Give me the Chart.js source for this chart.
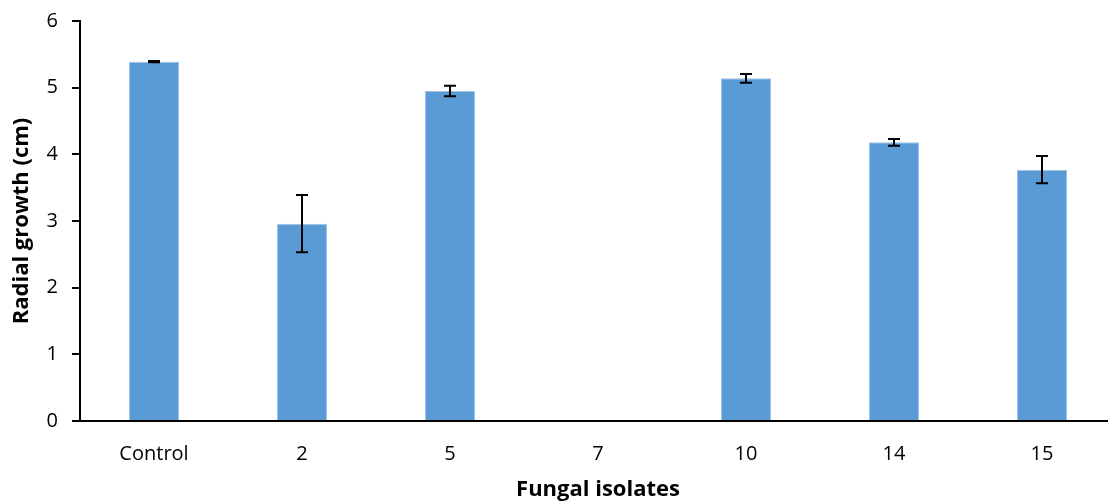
<!DOCTYPE html>
<html>
<head>
<meta charset="utf-8">
<script src="https://cdn.jsdelivr.net/npm/chart.js@4/dist/chart.umd.min.js"></script>
<style>
html,body{margin:0;padding:0;background:#fff;overflow:hidden;width:1108px;height:503px;}
#wrap{width:1116px;height:503px;position:relative;}
</style>
</head>
<body>
<div id="wrap"><canvas id="c"></canvas></div>
<script>
const categories = ["Control", "2", "5", "7", "10", "14", "15"];
const growth = [5.39, 2.96, 4.95, 0, 5.14, 4.18, 3.77];
const errors = [0.01, 0.43, 0.08, 0, 0.065, 0.05, 0.205];
const yTicks = [0, 1, 2, 3, 4, 5, 6];

const FONT = "'Open Sans', sans-serif";

const errorBarPlugin = {
  id: 'errorBars',
  afterDatasetsDraw(chart) {
    const ctx = chart.ctx;
    const meta = chart.getDatasetMeta(0);
    const ys = chart.scales.y;
    ctx.save();
    ctx.strokeStyle = '#000';
    ctx.lineWidth = 2;
    meta.data.forEach((bar, i) => {
      const e = errors[i];
      if (!e) return;
      const x = bar.x;
      const yTop = ys.getPixelForValue(growth[i] + e);
      const yBot = ys.getPixelForValue(growth[i] - e);
      const cap = 6;
      ctx.beginPath();
      ctx.moveTo(x, yTop); ctx.lineTo(x, yBot);
      ctx.moveTo(x - cap, yTop); ctx.lineTo(x + cap, yTop);
      ctx.moveTo(x - cap, yBot); ctx.lineTo(x + cap, yBot);
      ctx.stroke();
    });
    ctx.restore();
  }
};

new Chart(document.getElementById('c'), {
  type: 'bar',
  data: {
    labels: categories,
    datasets: [{
      data: growth,
      backgroundColor: '#5B9BD5',
      borderColor: '#9DC3E6',
      borderWidth: 1,
      categoryPercentage: 1.0,
      barPercentage: 0.338
    }]
  },
  options: {
    responsive: true,
    maintainAspectRatio: false,
    animation: false,
    devicePixelRatio: 1,
    layout: { padding: { left: 0, top: 0, right: 0, bottom: 0 } },
    plugins: { legend: { display: false }, tooltip: { enabled: false } },
    scales: {
      x: {
        grid: { display: false },
        border: { display: true, color: '#000', width: 2 },
        ticks: { color: '#000', font: { family: FONT, size: 20 }, padding: 13, maxRotation: 0 },
        title: { display: true, text: 'Fungal isolates', color: '#000',
                 font: { family: FONT, size: 22, weight: 'bold' }, padding: { top: 0, bottom: 0 } },
        afterFit(scale) { scale.height = 82; }
      },
      y: {
        min: 0, max: 6,
        afterBuildTicks(scale) { scale.ticks = yTicks.map(v => ({ value: v })); },
        grid: { display: true, drawOnChartArea: false, drawTicks: true, tickLength: 8, color: '#000', lineWidth: 2 },
        border: { display: true, color: '#000', width: 2 },
        ticks: { color: '#000', font: { family: FONT, size: 20 }, padding: 14 },
        title: { display: true, text: 'Radial growth (cm)', color: '#000',
                 font: { family: FONT, size: 22, weight: 'bold' }, padding: { top: 9, bottom: 0 } },
        afterFit(scale) { scale.width = 80; scale.paddingTop = 21; scale.paddingBottom = 12; }
      }
    }
  },
  plugins: [errorBarPlugin]
});
</script>
</body>
</html>
